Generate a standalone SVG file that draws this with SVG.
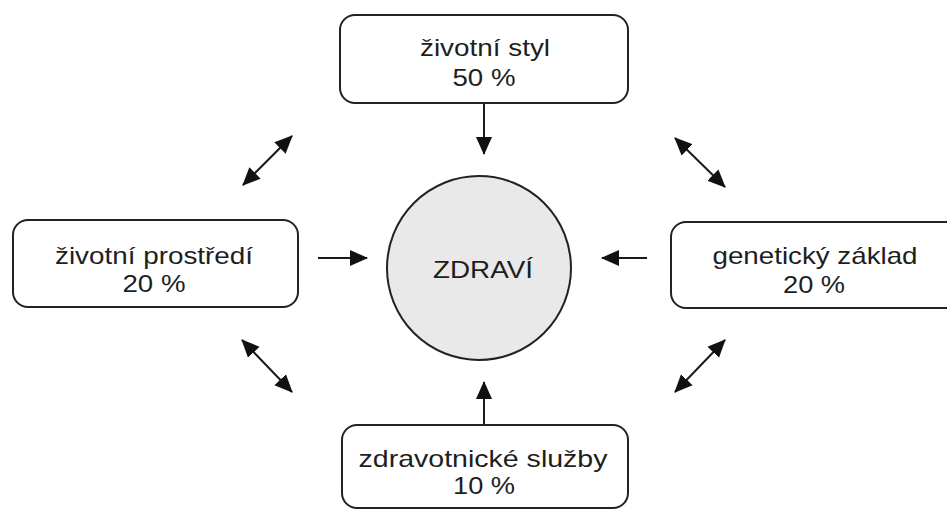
<svg xmlns="http://www.w3.org/2000/svg" width="947" height="510" viewBox="0 0 947 510">
  <style>
    .box { fill: #ffffff; stroke: #222222; stroke-width: 2; }
    .hub { fill: #e9e9e9; stroke: #222222; stroke-width: 2; }
    .lbl { font-family: "Liberation Sans", Arial, sans-serif; font-size: 24px; fill: #1e1e1e; text-anchor: middle; }
    .link { stroke: #1a1a1a; stroke-width: 2; fill: none; }
    .arrow { marker-end: url(#head); }
    .both { marker-start: url(#tail); marker-end: url(#head); }
  </style>
  <defs>
    <marker id="head" markerUnits="userSpaceOnUse" markerWidth="18" markerHeight="18" viewBox="0 0 18 18" refX="17" refY="9" orient="auto">
      <path d="M0,1 L18,9 L0,17 Z" fill="#111111"/>
    </marker>
    <marker id="tail" markerUnits="userSpaceOnUse" markerWidth="18" markerHeight="18" viewBox="0 0 18 18" refX="1" refY="9" orient="auto">
      <path d="M18,1 L0,9 L18,17 Z" fill="#111111"/>
    </marker>
  </defs>

  <rect width="947" height="510" fill="#ffffff"/>

  <g id="connectors">
    <line class="link arrow" x1="484" y1="104" x2="484" y2="154"/>
    <line class="link arrow" x1="484" y1="425" x2="484" y2="382"/>
    <line class="link arrow" x1="318" y1="258" x2="367" y2="258"/>
    <line class="link arrow" x1="647" y1="258" x2="602" y2="258"/>
    <line class="link both" x1="243" y1="185" x2="292" y2="136"/>
    <line class="link both" x1="675" y1="138" x2="725" y2="187"/>
    <line class="link both" x1="242" y1="340" x2="292" y2="392"/>
    <line class="link both" x1="725" y1="340" x2="675" y2="392"/>
  </g>

  <g id="health">
    <circle class="hub" cx="479" cy="268" r="92"/>
    <text class="lbl" x="483" y="278" textLength="100" lengthAdjust="spacingAndGlyphs">ZDRAVÍ</text>
  </g>

  <g id="lifestyle">
    <rect class="box" x="340" y="15" width="288" height="88" rx="15"/>
    <text class="lbl" x="485" y="56" textLength="130" lengthAdjust="spacingAndGlyphs">životní styl</text>
    <text class="lbl" x="484" y="86" textLength="63" lengthAdjust="spacingAndGlyphs">50 %</text>
  </g>

  <g id="environment">
    <rect class="box" x="13" y="220" width="285" height="87" rx="15"/>
    <text class="lbl" x="154" y="264" textLength="198" lengthAdjust="spacingAndGlyphs">životní prostředí</text>
    <text class="lbl" x="154" y="292" textLength="63" lengthAdjust="spacingAndGlyphs">20 %</text>
  </g>

  <g id="genetics">
    <rect class="box" x="671" y="222" width="290" height="86" rx="15"/>
    <text class="lbl" x="815" y="264" textLength="205" lengthAdjust="spacingAndGlyphs">genetický základ</text>
    <text class="lbl" x="814" y="293" textLength="62" lengthAdjust="spacingAndGlyphs">20 %</text>
  </g>

  <g id="healthcare">
    <rect class="box" x="342" y="425" width="286" height="83" rx="15"/>
    <text class="lbl" x="483" y="467" textLength="249" lengthAdjust="spacingAndGlyphs">zdravotnické služby</text>
    <text class="lbl" x="484" y="494" textLength="62" lengthAdjust="spacingAndGlyphs">10 %</text>
  </g>
</svg>
